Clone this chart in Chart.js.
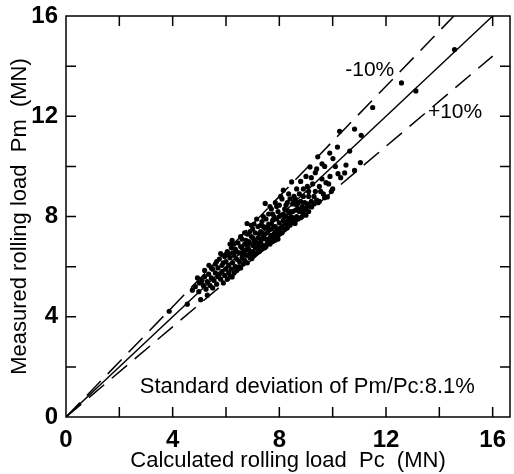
<!DOCTYPE html>
<html>
<head>
<meta charset="utf-8">
<script src="https://cdn.jsdelivr.net/npm/chart.js@4/dist/chart.umd.min.js"></script>
<style>
html,body{margin:0;padding:0;background:#fff;}
#wrap{width:514px;height:474px;}
</style>
</head>
<body>
<div id="wrap"><canvas id="c" width="514" height="474"></canvas></div>
<script>
// [Pc (calculated), Pm (measured)] in MN
const samples = [
[3.87,4.22],[4.55,4.50],[4.74,5.06],[4.93,5.55],[4.85,5.2],[5.0,5.35],[5.05,4.68],[4.98,5.0],
[5.1,5.45],[5.15,5.25],[5.2,5.6],[5.25,5.1],[5.3,4.86],[5.3,5.4],[5.36,6.05],[5.35,5.7],[5.4,5.25],[5.45,5.55],[5.5,5.9],[5.5,5.15],
[5.55,5.45],[5.6,5.75],[5.6,6.1],[5.65,5.3],[5.7,5.6],[5.7,5.95],[5.75,6.3],[5.8,6.52],[5.8,5.5],[5.85,5.8],[5.9,6.15],[5.9,5.35],[5.95,5.65],[5.95,6.4],
[6.0,5.9],[6.0,6.2],[6.05,5.5],[6.05,6.6],[6.1,5.75],[6.1,6.05],[6.15,6.35],[6.15,5.6],[6.2,5.9],[6.2,6.75],[6.23,7.05],[6.23,5.59],[6.25,6.15],[6.3,6.45],[6.3,5.75],[6.35,6.0],[6.35,6.7],[6.4,5.85],[6.4,6.3],[6.45,6.95],[6.45,5.95],[6.5,6.2],[6.5,6.55],
[6.55,5.95],[6.55,6.8],[6.6,6.35],[6.6,7.1],[6.65,6.1],[6.65,6.6],[6.7,6.9],[6.7,6.25],[6.75,6.45],[6.79,7.72],[6.8,7.3],[6.8,6.15],[6.85,6.7],[6.85,7.0],[6.9,6.35],[6.9,6.55],[6.95,7.2],[6.97,6.32],[7.0,6.85],[7.0,7.5],[7.0,6.6],
[7.05,7.05],[7.05,6.45],[7.1,6.75],[7.1,7.35],[7.15,6.95],[7.15,6.55],[7.2,7.6],[7.2,7.15],[7.25,6.8],[7.25,6.6],[7.3,7.4],[7.3,7.0],[7.35,6.7],[7.35,7.8],[7.4,7.2],[7.4,6.85],[7.45,7.55],[7.45,6.75],[7.47,8.52],[7.5,7.1],[7.5,7.9],
[7.55,6.95],[7.55,7.35],[7.6,7.7],[7.6,8.1],[7.65,7.15],[7.65,6.9],[7.7,7.5],[7.7,8.3],[7.75,7.0],[7.75,7.85],[7.8,7.3],[7.8,8.0],[7.84,7.05],[7.85,7.6],[7.85,8.55],[7.9,7.2],[7.9,7.9],[7.95,7.45],[7.95,8.2],[8.0,7.3],[8.0,7.75],[8.0,8.45],
[8.05,7.55],[8.05,8.05],[8.1,7.35],[8.1,8.7],[8.15,9.05],[8.15,7.85],[8.2,7.5],[8.2,8.3],[8.25,7.7],[8.25,8.0],[8.3,7.55],[8.3,8.55],[8.35,7.9],[8.35,8.9],[8.4,7.65],[8.4,8.2],[8.45,8.0],[8.46,9.38],[8.5,7.75],[8.5,8.5],
[8.55,8.8],[8.55,7.9],[8.59,7.72],[8.6,8.25],[8.65,8.0],[8.65,9.1],[8.7,7.9],[8.7,8.55],[8.75,8.2],[8.8,9.4],[8.8,7.95],[8.85,8.4],[8.9,8.1],[8.9,8.8],[8.95,8.25],[9.0,9.6],[9.0,8.05],
[9.05,8.5],[9.1,8.2],[9.1,9.0],[9.15,9.98],[9.2,8.6],[9.21,8.38],[9.25,9.3],[9.3,8.5],[9.35,9.75],[9.4,8.65],[9.44,10.38],[9.5,9.2],[9.5,8.6],
[9.6,9.5],[9.65,8.9],[9.7,10.0],[9.8,8.78],[9.85,9.3],[9.89,10.53],[9.95,9.0],[10.01,10.31],[10.1,10.0],[10.18,10.77],[10.2,9.71],[10.26,11.40],[10.45,9.74],[10.64,10.61],[10.82,9.84],[10.82,11.49],[11.04,10.15],[11.07,11.24],
[11.5,12.35],[12.58,13.33],[13.12,13.01],[14.57,14.66],
[5.2,5.85],[5.45,5.95],[5.65,6.2],[5.75,5.7],[5.85,6.05],[6.0,6.45],[6.1,6.5],[6.25,6.55],[6.3,6.9],[6.4,6.6],[6.55,7.2],[6.6,6.5],[6.7,7.35],[6.75,7.05],[6.8,6.85],
[6.9,7.4],[6.95,6.45],[7.05,7.7],[7.1,7.0],[7.2,6.9],[7.25,7.3],[7.3,7.65],[7.35,7.1],[7.4,8.0],[7.45,7.3],[7.5,6.8],[7.55,7.6],[7.6,7.05],[7.65,8.4],[7.7,7.25],
[7.75,8.1],[7.8,7.6],[7.85,7.4],[7.9,8.4],[7.95,7.1],[8.0,8.0],[8.05,8.8],[8.1,7.6],[8.15,8.1],[8.2,8.0],[8.25,8.45],[8.3,7.8],[8.35,8.15],[8.4,8.7],[8.45,7.85],
[8.5,8.2],[8.55,8.6],[8.6,7.95],[8.65,8.45],[8.7,8.3],[8.75,8.9],[8.8,8.6],[8.85,8.0],[8.9,9.1],[8.95,8.55],[9.0,8.35],[9.05,9.2],[9.1,8.8],[9.15,8.4],[9.2,9.55],
[9.3,8.8],[9.35,9.0],[9.4,9.9],[9.45,8.55],[9.55,9.0],[9.6,10.1],[9.7,8.75],[9.75,9.35],[9.9,9.6],[10.0,9.1],[10.3,9.55],[10.5,10.05],[6.15,6.9],[6.95,7.65],[7.15,7.9],
[6.5,6.0],[6.75,6.65],[7.0,7.15],[7.2,6.7],[7.4,7.6],[7.6,7.45],[7.8,7.15],[8.0,7.5],[8.2,7.75],[8.4,7.95],[8.6,8.7],[8.8,8.25],[7.1,6.95],[6.6,6.75],[6.85,6.45],[7.7,7.7],[8.3,8.25]
];
// reference lines: Pm = Pc, Pm = 1.1 Pc (-10%), Pm = 0.9 Pc (+10%)
const equalLine = [[0,0],[16,16]];
const minus10Line = [[0,0],[14.545,16]];
const plus10Line = [[0,0],[16,14.4]];
const xTickValues = [0,2,4,6,8,10,12,14,16];
const yTickValues = [0,2,4,6,8,10,12,14,16];
const labelledTicks = [0,4,8,12,16];
const xTitle = 'Calculated rolling load  Pc  (MN)';
const yTitle = 'Measured rolling load  Pm  (MN)';
const note = 'Standard deviation of Pm/Pc:8.1%';
const bandLabels = [{text:'-10%', x:11.39, y:13.83},{text:'+10%', x:14.59, y:12.16}];
const notePos = {x:9.05, y:1.2};

const toXY = a => a.map(p => ({x:p[0], y:p[1]}));

const framePlugin = {
  id:'frame',
  afterDraw(chart){
    const {ctx, chartArea:a, scales:{x, y}} = chart;
    ctx.save();
    ctx.strokeStyle = '#000';
    ctx.lineWidth = 1.5;
    ctx.strokeRect(a.left, a.top, a.right - a.left, a.bottom - a.top);
    const L = 10;
    ctx.beginPath();
    xTickValues.forEach(v => {
      if (v === 0) return;
      const px = x.getPixelForValue(v);
      ctx.moveTo(px, a.bottom); ctx.lineTo(px, a.bottom - L);
      ctx.moveTo(px, a.top); ctx.lineTo(px, a.top + L);
    });
    yTickValues.forEach(v => {
      if (v === 0 || v === 16) return;
      const py = y.getPixelForValue(v);
      ctx.moveTo(a.left, py); ctx.lineTo(a.left + L, py);
      ctx.moveTo(a.right, py); ctx.lineTo(a.right - L, py);
    });
    ctx.stroke();
    ctx.fillStyle = '#000';
    ctx.textAlign = 'center';
    ctx.textBaseline = 'middle';
    ctx.font = '21px "Liberation Sans"';
    bandLabels.forEach(b => ctx.fillText(b.text, x.getPixelForValue(b.x), y.getPixelForValue(b.y)));
    ctx.font = '22px "Liberation Sans"';
    ctx.fillText(note, x.getPixelForValue(notePos.x), y.getPixelForValue(notePos.y));
    ctx.restore();
  }
};

new Chart(document.getElementById('c'), {
  type:'scatter',
  data:{
    datasets:[
      {data:toXY(equalLine), showLine:true, borderColor:'#000', borderWidth:1.4, pointRadius:0, fill:false},
      {data:toXY(minus10Line), showLine:true, borderColor:'#000', borderWidth:1.5, borderDash:[20,10], pointRadius:0, fill:false},
      {data:toXY(plus10Line), showLine:true, borderColor:'#000', borderWidth:1.5, borderDash:[20,10], pointRadius:0, fill:false},
      {data:toXY(samples), showLine:false, pointRadius:2.6, pointBackgroundColor:'#000', pointBorderWidth:0, pointBorderColor:'#000'}
    ]
  },
  options:{
    responsive:false,
    animation:false,
    devicePixelRatio:1,
    layout:{padding:{top:16, right:-3, left:0, bottom:0}},
    plugins:{legend:{display:false}, tooltip:{enabled:false}},
    scales:{
      x:{
        type:'linear', min:0, max:16.65,
        afterBuildTicks: s => { s.ticks = xTickValues.map(v => ({value:v})); },
        afterFit: s => { s.height = 57; s.paddingLeft = 0; s.paddingRight = 0; },
        grid:{display:false, drawTicks:false},
        border:{display:false},
        ticks:{padding:9, color:'#000', maxRotation:0, autoSkip:false,
          font:{family:'"Liberation Sans"', size:24, weight:'bold'},
          callback: v => labelledTicks.includes(v) ? String(v) : ''},
        title:{display:true, text:xTitle, color:'#000', padding:0,
          font:{family:'"Liberation Sans"', size:22}}
      },
      y:{
        type:'linear', min:0, max:16,
        afterBuildTicks: s => { s.ticks = yTickValues.map(v => ({value:v})); },
        afterFit: s => { s.width = 66; s.paddingTop = 0; s.paddingBottom = 0; },
        grid:{display:false, drawTicks:false},
        border:{display:false},
        ticks:{padding:8, color:'#000', autoSkip:false,
          font:{family:'"Liberation Sans"', size:24, weight:'bold'},
          callback: v => labelledTicks.includes(v) ? String(v) : ''},
        title:{display:true, text:yTitle, color:'#000', padding:{top:7, bottom:0},
          font:{family:'"Liberation Sans"', size:22}}
      }
    }
  },
  plugins:[framePlugin]
});
</script>
</body>
</html>
